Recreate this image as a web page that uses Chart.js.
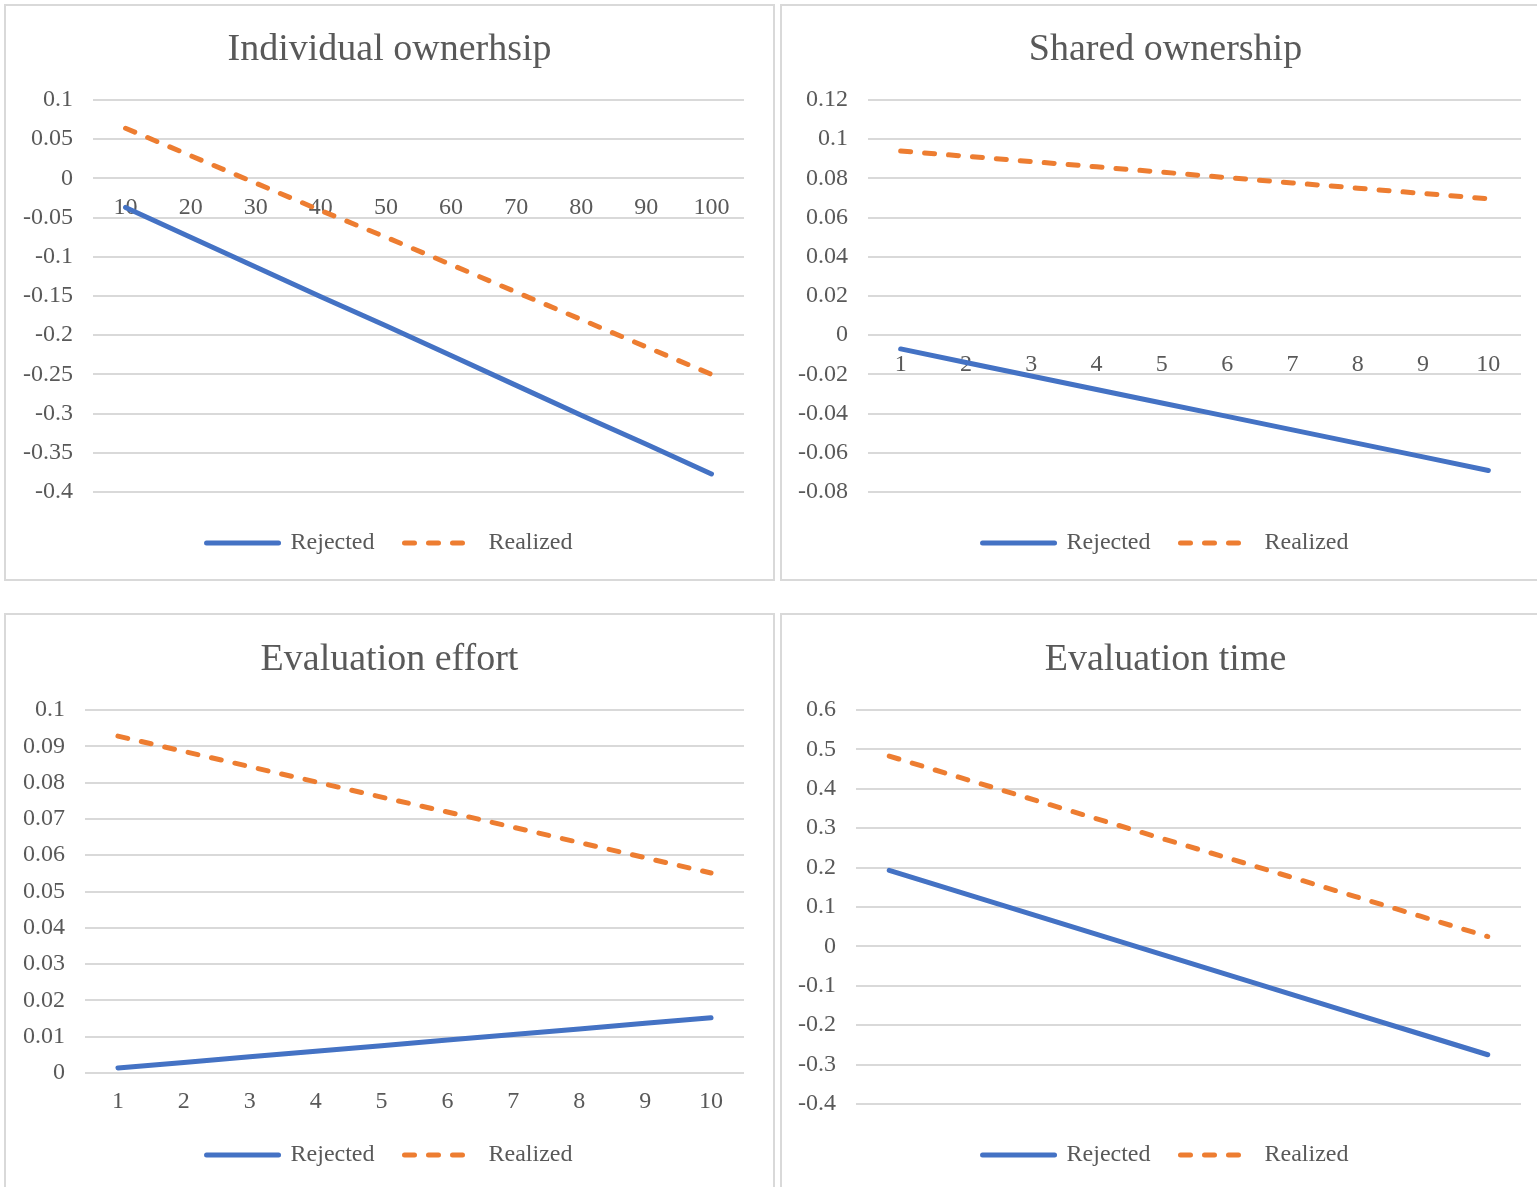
<!DOCTYPE html>
<html>
<head>
<meta charset="utf-8">
<script src="https://cdn.jsdelivr.net/npm/chart.js@4.4.1/dist/chart.umd.min.js"></script>
<style>
  body { margin: 0; background: #fff; width: 1537px; height: 1187px; overflow: hidden; position: relative; }
  .panel { position: absolute; box-sizing: border-box; border: 2px solid #d9d9d9; }
  canvas { position: absolute; }
</style>
</head>
<body>
<div class="panel" style="left:4px;top:4px;width:771px;height:577px"></div>
<div class="panel" style="left:780px;top:4px;width:771px;height:577px"></div>
<div class="panel" style="left:4px;top:613px;width:771px;height:600px"></div>
<div class="panel" style="left:780px;top:613px;width:771px;height:600px"></div>

<canvas id="c1" width="769" height="575" style="left:5px;top:5px"></canvas>
<canvas id="c2" width="769" height="575" style="left:781px;top:5px"></canvas>
<canvas id="c3" width="769" height="573" style="left:5px;top:614px"></canvas>
<canvas id="c4" width="769" height="573" style="left:781px;top:614px"></canvas>

<script>
// categories
const ownLevels = ['10', '20', '30', '40', '50', '60', '70', '80', '90', '100'];
const steps = ['1', '2', '3', '4', '5', '6', '7', '8', '9', '10'];

// Individual ownerhsip
const indivRejected = [-0.037, -0.075, -0.113, -0.151, -0.188, -0.226, -0.264, -0.302, -0.339, -0.377];
const indivRealized = [0.064, 0.029, -0.006, -0.041, -0.075, -0.110, -0.145, -0.180, -0.215, -0.250];

// Shared ownership
const sharedRejected = [-0.0070, -0.0139, -0.0208, -0.0277, -0.0346, -0.0414, -0.0483, -0.0552, -0.0621, -0.0690];
const sharedRealized = [0.0940, 0.0913, 0.0886, 0.0859, 0.0832, 0.0804, 0.0777, 0.0750, 0.0723, 0.0696];

// Evaluation effort
const effortRejected = [0.0014, 0.0029, 0.0045, 0.0060, 0.0075, 0.0091, 0.0106, 0.0121, 0.0137, 0.0152];
const effortRealized = [0.0928, 0.0886, 0.0844, 0.0802, 0.0760, 0.0719, 0.0677, 0.0635, 0.0593, 0.0551];

// Evaluation time
const timeRejected = [0.193, 0.141, 0.089, 0.037, -0.015, -0.067, -0.119, -0.171, -0.223, -0.275];
const timeRealized = [0.483, 0.432, 0.381, 0.330, 0.279, 0.229, 0.178, 0.127, 0.076, 0.025];

const blue = '#4472C4';
const orange = '#ED7D31';
const textColor = '#595959';
const gridColor = '#d9d9d9';

Chart.defaults.font.family = "'Liberation Serif', 'Times New Roman', serif";
Chart.defaults.color = textColor;

// legend samples: keep the dataset dash pattern (point style drops it)
function legendLabels(chart) {
    const items = Chart.defaults.plugins.legend.labels.generateLabels(chart);
    items.forEach((item, i) => {
        const ds = chart.data.datasets[i];
        item.lineDash = ds.borderDash || [];
        item.lineCap = 'round';
        item.lineWidth = ds.borderWidth;
    });
    return items;
}

function buildChart(canvasId, cfg) {
    let xScale;
    if (cfg.xMode === 'zero') {
        // category labels sit under the zero line, like Excel
        xScale = {
            offset: true,
            position: { y: 0 },
            grid: { display: false, drawTicks: false },
            border: { display: false },
            ticks: { font: { size: 24 }, padding: 15, maxRotation: 0, autoSkip: false },
            afterFit: s => { s.height = 0; }
        };
    } else if (cfg.xMode === 'bottom') {
        xScale = {
            offset: true,
            grid: { display: false, drawTicks: false },
            border: { display: false },
            ticks: { font: { size: 24 }, padding: 14, maxRotation: 0, autoSkip: false },
            afterFit: s => { s.height = 40; }
        };
    } else {
        xScale = { offset: true, display: false };
    }

    return new Chart(document.getElementById(canvasId), {
        type: 'line',
        data: {
            labels: cfg.labels,
            datasets: [{
                label: 'Rejected',
                data: cfg.rejected,
                borderColor: blue,
                backgroundColor: blue,
                borderWidth: 5,
                borderCapStyle: 'round',
                pointRadius: 0,
                tension: 0
            }, {
                label: 'Realized',
                data: cfg.realized,
                borderColor: orange,
                backgroundColor: orange,
                borderWidth: 5,
                borderDash: [10, 14],
                borderCapStyle: 'round',
                pointRadius: 0,
                tension: 0
            }]
        },
        options: {
            responsive: false,
            animation: false,
            layout: { padding: { left: 0, right: 0, top: 0, bottom: cfg.padBottom } },
            plugins: {
                title: {
                    display: true,
                    text: cfg.title,
                    color: textColor,
                    font: { size: 38, weight: 'normal' },
                    padding: { top: cfg.titleTop, bottom: 27.2 }
                },
                legend: {
                    position: 'bottom',
                    labels: {
                        usePointStyle: true,
                        pointStyle: 'line',
                        pointStyleWidth: 72,
                        padding: 30,
                        color: textColor,
                        font: { size: 24 },
                        generateLabels: legendLabels
                    },
                    title: {
                        display: cfg.legendGap > 0,
                        text: '',
                        font: { size: 1, lineHeight: 1 },
                        padding: { top: Math.max(cfg.legendGap - 1, 0), bottom: 0 }
                    }
                },
                tooltip: { enabled: false }
            },
            scales: {
                x: xScale,
                y: {
                    min: cfg.min,
                    max: cfg.max,
                    ticks: {
                        stepSize: cfg.step,
                        padding: 20,
                        font: { size: 24 },
                        callback: v => String(Number(v.toFixed(4)))
                    },
                    grid: { color: gridColor, lineWidth: 2, drawTicks: false },
                    border: { display: false },
                    afterFit: s => { s.width = cfg.plotLeft; }
                },
                // empty right-hand strip, keeps title and legend centred on the panel
                yRight: {
                    type: 'linear',
                    position: 'right',
                    ticks: { display: false },
                    grid: { display: false, drawTicks: false },
                    border: { display: false },
                    afterFit: s => { s.width = cfg.rightGap; }
                }
            }
        }
    });
}

buildChart('c1', {
    title: 'Individual ownerhsip', labels: ownLevels,
    rejected: indivRejected, realized: indivRealized,
    min: -0.4, max: 0.1, step: 0.05, xMode: 'zero',
    plotLeft: 88, rightGap: 30, padBottom: 15, titleTop: 22.2, legendGap: 9
});

buildChart('c2', {
    title: 'Shared ownership', labels: steps,
    rejected: sharedRejected, realized: sharedRealized,
    min: -0.08, max: 0.12, step: 0.02, xMode: 'zero',
    plotLeft: 87, rightGap: 29, padBottom: 15, titleTop: 22.2, legendGap: 9
});

buildChart('c3', {
    title: 'Evaluation effort', labels: steps,
    rejected: effortRejected, realized: effortRealized,
    min: 0, max: 0.1, step: 0.01, xMode: 'bottom',
    plotLeft: 80, rightGap: 30, padBottom: 10, titleTop: 23.2, legendGap: 0
});

buildChart('c4', {
    title: 'Evaluation time', labels: steps,
    rejected: timeRejected, realized: timeRealized,
    min: -0.4, max: 0.6, step: 0.1, xMode: 'none',
    plotLeft: 75, rightGap: 29, padBottom: 10, titleTop: 23.2, legendGap: 9
});
</script>
</body>
</html>
